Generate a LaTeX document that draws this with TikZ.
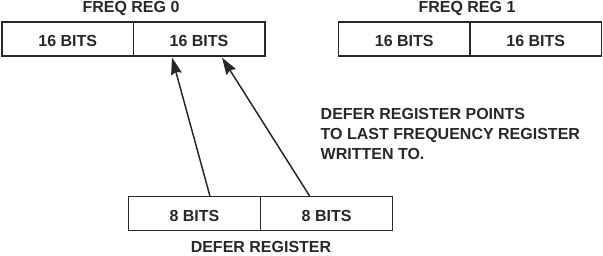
\documentclass[tikz,border=0pt]{standalone}
\usepackage{fontspec}
\setmainfont{Liberation Sans}
\usetikzlibrary{arrows.meta, calc}
\definecolor{regline}{RGB}{40,40,44}

\tikzset{
  regbox/.style={draw=regline, line width=1.5pt, minimum width=131.5pt, minimum height=34pt, inner sep=0pt, text height=15pt, text depth=0pt, font=\fontsize{16}{19.7}\selectfont\bfseries, text=regline},
  reglabel/.style={font=\fontsize{16}{19.7}\selectfont\bfseries, text=regline, inner sep=0pt},
  ptr/.style={draw=regline, line width=1.5pt, -{Stealth[length=17pt,width=11pt,inset=2pt]}}
}

\begin{document}
\begin{tikzpicture}[x=1pt, y=-1pt]
\useasboundingbox (0,0) rectangle (603,255);
 %freq registers
 \node[regbox] (f00) at (67.75,38.8) {16 BITS};
 \node[regbox] (f01) at (199,38.8) {16 BITS};
 \node[regbox] (f10) at (404.3,38.8) {16 BITS};
 \node[regbox] (f11) at (535.7,38.8) {16 BITS};
 \node[reglabel, anchor=base] (fr0) at (131,12.5) {FREQ REG 0};
 \node[reglabel, anchor=base] (fr1) at (467,12.5) {FREQ REG 1};

 %defer register
 \node[regbox, minimum width=132pt] (d0) at (194.4,213.7) {8 BITS};
 \node[regbox, minimum width=132pt] (d1) at (326.6,213.7) {8 BITS};
 \node[reglabel, anchor=base] (dr) at (261,252) {DEFER REGISTER};

 %pointers
 \draw[ptr] ($(d0.north)+(15.5,0)$) -- ($(f01.south)+(-27,1)$);
 \draw[ptr] ($(d1.north)+(-17,0)$) -- ($(f01.south)+(23,1)$);

 \node[reglabel, align=left, anchor=north west] (note) at (320.5,108.3) {DEFER REGISTER POINTS\\TO LAST FREQUENCY REGISTER\\WRITTEN TO.};
\end{tikzpicture}
\end{document}
